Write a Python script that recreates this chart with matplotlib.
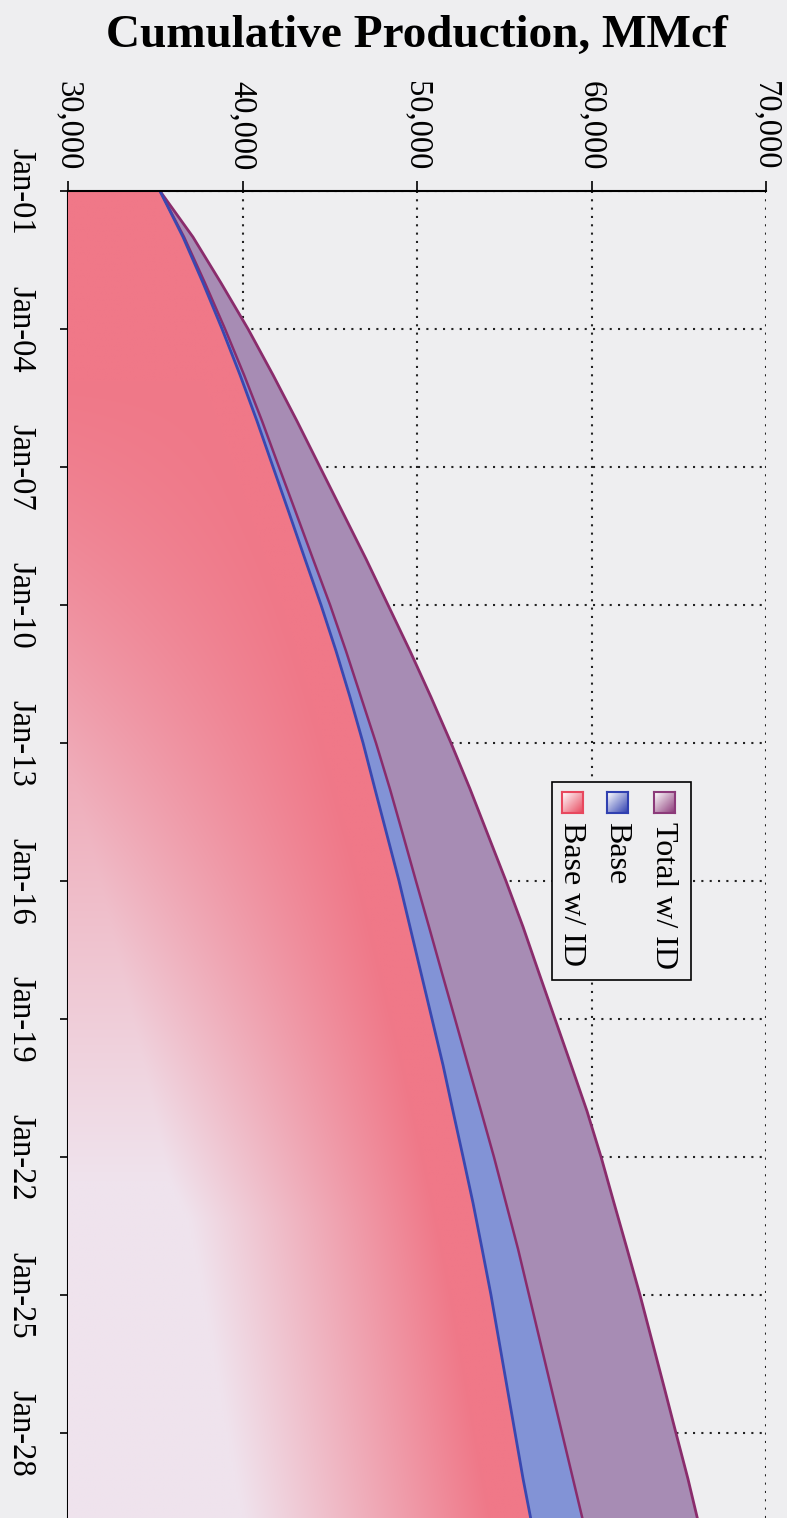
import numpy as np
import matplotlib.pyplot as plt
from matplotlib.colors import to_rgb
from matplotlib.patches import Rectangle

# Cumulative production, MMcf (one point per January)
years = np.arange(2001, 2031)
total_id = np.array([
    35270, 37160, 38770, 40320, 41750, 43120, 44440, 45760, 47080, 48340,
    49600, 50800, 51950, 53040, 54070, 55100, 56080, 56990, 57910, 58830,
    59740, 60550, 61290, 62040, 62780, 63470, 64160, 64840, 65530, 66160
])
base = np.array([
    35270, 36650, 37850, 39000, 40090, 41120, 42090, 43070, 44040, 45020,
    45930, 46790, 47650, 48450, 49200, 49940, 50690, 51430, 52180, 52920,
    53670, 54410, 55100, 55790, 56420, 57050, 57680, 58310, 58940, 59570
])
base_id = np.array([
    35270, 36590, 37740, 38830, 39860, 40830, 41750, 42670, 43580, 44500,
    45360, 46160, 46910, 47590, 48280, 48970, 49600, 50230, 50860, 51490,
    52060, 52640, 53210, 53730, 54240, 54700, 55160, 55620, 56080, 56590
])

series_names = ['Total w/ ID', 'Base', 'Base w/ ID']
swatch_colors = ['#8c3a7a', '#3040b0', '#e8485e']
date_ticks = np.arange(2001, 2029, 3)
date_labels = ['Jan-01', 'Jan-04', 'Jan-07', 'Jan-10', 'Jan-13',
               'Jan-16', 'Jan-19', 'Jan-22', 'Jan-25', 'Jan-28']
value_ticks = [30000, 40000, 50000, 60000, 70000]

plt.rcParams['font.family'] = ['Liberation Serif', 'DejaVu Serif']
bg = '#eeeef0'
W, H = 787, 1518
px_per_year = 46.0
units_per_px = 10000 / 174.5


def fx(x):
    return x / W


def fy(y):
    return 1 - y / H


fig = plt.figure(figsize=(W / 100, H / 100), dpi=100)
fig.patch.set_facecolor(bg)
ax = fig.add_axes([fx(68), 0, (766 - 68) / W, fy(191)])
ax.set_facecolor(bg)

# areas, back to front
ax.fill_betweenx(years, 30000, total_id, color='#a78cb4', lw=0, zorder=2)
ax.plot(total_id, years, color='#8a2c6c', lw=2, zorder=6)
ax.fill_betweenx(years, 30000, base, color='#8293d6', lw=0, zorder=3)
ax.plot(base, years, color='#8a2c6c', lw=1.8, zorder=6)
pink = ax.fill_betweenx(years, 30000, base_id, color='#f07888', lw=0, zorder=4)

# gradient inside the pink area: pale far from its edge, more so further down
gx = np.linspace(30000, 70000, 400)
gy = np.linspace(2001, 2031, 600)
GX, GY = np.meshgrid(gx, gy)
edge = np.interp(GY, years, base_id)
dist_px = (edge - GX) / units_per_px
ypix = 191 + (GY - 2001) * px_per_year
pale = np.clip((dist_px - 40) / 260, 0, 1) * np.clip((ypix - 380) / 800, 0, 1.05)
pale = np.clip(pale, 0, 1)[..., None]
c_sat = np.array(to_rgb('#f07888'))
c_pale = np.array(to_rgb('#efe3ed'))
img = c_sat + (c_pale - c_sat) * pale
im = ax.imshow(img, extent=(30000, 70000, 2031, 2001), origin='upper',
               aspect='auto', zorder=4.5, interpolation='bilinear')
im.set_clip_path(pink.get_paths()[0], transform=ax.transData)
ax.plot(base_id, years, color='#3a48b0', lw=2, zorder=6)

ax.set_xlim(30000, 70000)
ax.set_ylim(2001 + (H - 191) / px_per_year, 2001)

ax.set_axisbelow(True)
ax.grid(True, color='#222222', linestyle=(0, (1, 3)), lw=1.5)

for s in ['right', 'bottom']:
    ax.spines[s].set_visible(False)
ax.spines['top'].set_linewidth(1.5)
ax.spines['left'].set_linewidth(1.5)
ax.spines['top'].set_zorder(7)

ax.xaxis.tick_top()
ax.set_xticks(value_ticks)
ax.set_xticklabels([f'{v:,}' for v in value_ticks])
ax.set_yticks(date_ticks)
ax.set_yticklabels(date_labels)
ax.tick_params(axis='x', direction='out', length=7, width=1.2, pad=8,
               labelsize=23.5, labelrotation=-90)
ax.tick_params(axis='y', direction='out', length=6, width=1.2, pad=17,
               labelsize=23.5, labelrotation=-90)
for lbl in ax.get_yticklabels():
    lbl.set_verticalalignment('center')

fig.text(fx(417), fy(47), 'Cumulative Production, MMcf', ha='center',
         va='baseline', fontsize=34, fontweight='bold')

# legend drawn by hand, rotated like the rest of the chart
fig.add_artist(Rectangle((fx(552), fy(980)), 139 / W, 198 / H,
                         transform=fig.transFigure, facecolor=bg,
                         edgecolor='black', lw=1.2, zorder=10))
centers = [664, 617, 572]
sq = np.linspace(0, 1, 20)
SX, SY = np.meshgrid(sq, sq)
for name, col, cx in zip(series_names, swatch_colors, centers):
    fig.text(fx(cx), fy(822), name, rotation=-90, ha='center', va='top',
             fontsize=23, zorder=11)
    sax = fig.add_axes([fx(cx - 10), fy(813), 21 / W, 21 / H], zorder=11)
    t = np.clip((SX + SY) / 2, 0, 1)[..., None]
    simg = np.array(to_rgb(col)) * (1 - t) + np.array([1, 1, 1]) * t
    sax.imshow(simg[::-1, ::-1], aspect='auto')
    sax.set_xticks([])
    sax.set_yticks([])
    for sp in sax.spines.values():
        sp.set_color(col)
        sp.set_linewidth(1.5)

fig.savefig('out.png', dpi=100, facecolor=bg)
